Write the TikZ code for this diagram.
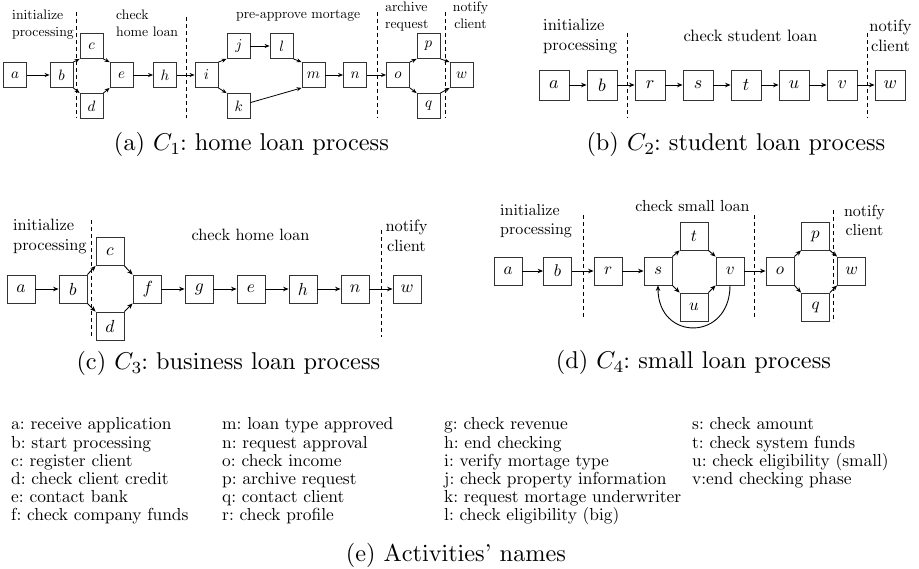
\documentclass[tikz,border=0pt]{standalone}
\usetikzlibrary{arrows.meta}
\frenchspacing
\font\fCapR=cmr10 at 24.3pt
\font\fCapI=cmmi10 at 24.3pt
\font\fCapS=cmr7 at 17pt
\font\fLeg=cmr10 at 17.4pt
\font\fAr=cmr10 at 13.75pt
\font\fAi=cmmi10 at 15pt
\font\fBr=cmr10 at 16.5pt
\font\fBi=cmmi10 at 18pt
\font\fCr=cmr10 at 16.4pt
\font\fCi=cmmi10 at 17.5pt
\font\fDr=cmr10 at 16pt
\font\fDi=cmmi10 at 17pt
\newcommand\CapC[1]{{\fCapI C}\lower3.6pt\hbox{\fCapS #1}}
\tikzset{
  bx/.style={draw=black!80, line width=0.8pt, inner sep=0pt},
  boxA/.style={bx, minimum width=23pt, minimum height=25pt, font=\fAi},
  boxB/.style={bx, minimum size=30pt, font=\fBi},
  boxC/.style={bx, minimum size=28pt, font=\fCi},
  boxD/.style={bx, minimum size=28pt, font=\fDi},
  arr/.style={-{Stealth[length=5.5pt,width=4.5pt]}, line width=0.9pt},
  arrA/.style={-{Stealth[length=5pt,width=4pt]}, line width=0.8pt},
  sep/.style={dashed, dash pattern=on 4pt off 3pt, line width=0.9pt},
  lw/.style={inner sep=0pt, anchor=base west},
  lc/.style={inner sep=0pt, anchor=base},
  captxt/.style={inner sep=0pt, anchor=base, font=\fCapR},
  leg/.style={inner sep=0pt, anchor=base west, font=\fLeg},
}
\begin{document}
\begin{tikzpicture}[x=1pt,y=-1pt]
\frenchspacing
\useasboundingbox (0,0) rectangle (919,569);
\fill[white] (0,0) rectangle (919,569);

% ---------------- panel (a)
\node[boxA] (a1) at (15,75) {a};
\node[boxA] (b1) at (61.5,75) {b};
\node[boxA] (c1) at (91.5,46) {c};
\node[boxA] (d1) at (91.5,106) {d};
\node[boxA] (e1) at (121.5,75) {e};
\node[boxA] (h1) at (165,75) {h};
\node[boxA] (i1) at (206.5,75) {i};
\node[boxA] (j1) at (238.5,46) {j};
\node[boxA] (l1) at (281.5,46) {l};
\node[boxA] (k1) at (238.5,106) {k};
\node[boxA] (m1) at (313.5,75) {m};
\node[boxA] (n1) at (355,75) {n};
\node[boxA] (o1) at (398,75) {o};
\node[boxA] (p1) at (428.5,46) {p};
\node[boxA] (q1) at (428.5,106) {q};
\node[boxA] (w1) at (461.5,75) {w};
\draw[sep] (76,12) -- (76,118);
\draw[sep] (186,17) -- (186,118);
\draw[sep] (377,12) -- (377,118);
\draw[sep] (445,12) -- (445,118);
\node[lw, font=\fAr] (ta1) at (12,19.5) {initialize};
\node[lw, font=\fAr] (ta2) at (12,36.5) {processing};
\node[lw, font=\fAr] (ta3) at (116,19.5) {check};
\node[lw, font=\fAr] (ta4) at (116,36.5) {home loan};
\node[lw, font=\fAr] (ta5) at (236,19) {pre-approve mortage};
\node[lw, font=\fAr] (ta6) at (385,12) {archive};
\node[lw, font=\fAr] (ta7) at (385,28.5) {request};
\node[lc, font=\fAr] (ta8) at (470.5,12) {notify};
\node[lc, font=\fAr] (ta9) at (470.5,28.5) {client};
\draw[arrA] (a1) -- (b1);
\draw[arrA] (b1.north east) -- (c1.south west);
\draw[arrA] (b1.south east) -- (d1.north west);
\draw[arrA] (c1.south east) -- (e1.north west);
\draw[arrA] (d1.north east) -- (e1.south west);
\draw[arrA] (e1) -- (h1);
\draw[arrA] (h1) -- (i1);
\draw[arrA] (i1.north east) -- (j1.south west);
\draw[arrA] (i1.south east) -- (k1.north west);
\draw[arrA] (j1) -- (l1);
\draw[arrA] (l1.south east) -- (m1.north west);
\draw[arrA] (k1) -- (m1.south west);
\draw[arrA] (m1) -- (n1);
\draw[arrA] (n1) -- (o1);
\draw[arrA] (o1.north east) -- (p1.south west);
\draw[arrA] (o1.south east) -- (q1.north west);
\draw[arrA] (p1.south east) -- (w1.north west);
\draw[arrA] (q1.north east) -- (w1.south west);
\node[captxt] (capa) at (251.5,151) {(a) \CapC{1}: home loan process};

% ---------------- panel (b)
\node[boxB] (a2) at (554,85) {a};
\node[boxB] (b2) at (602,85) {b};
\node[boxB] (r2) at (650,85) {r};
\node[boxB] (s2) at (698,85) {s};
\node[boxB] (t2) at (746,85) {t};
\node[boxB] (u2) at (794,85) {u};
\node[boxB] (v2) at (842,85) {v};
\node[boxB] (w2) at (890,85) {w};
\draw[sep] (627,33) -- (627,118);
\draw[sep] (867,33) -- (867,118);
\node[lw, font=\fBr] (tb1) at (543,31) {initialize};
\node[lw, font=\fBr] (tb2) at (543,51) {processing};
\node[lc, font=\fBr] (tb3) at (750.5,42) {check student loan};
\node[lc, font=\fBr] (tb4) at (890.5,32) {notify};
\node[lc, font=\fBr] (tb5) at (890.5,52) {client};
\draw[arr] (a2) -- (b2);
\draw[arr] (b2) -- (r2);
\draw[arr] (r2) -- (s2);
\draw[arr] (s2) -- (t2);
\draw[arr] (t2) -- (u2);
\draw[arr] (u2) -- (v2);
\draw[arr] (v2) -- (w2);
\node[captxt] (capb) at (736,151) {(b) \CapC{2}: student loan process};

% ---------------- panel (c)
\node[boxC] (a3) at (21,289) {a};
\node[boxC] (b3) at (73,289) {b};
\node[boxC] (c3) at (110,251.5) {c};
\node[boxC] (d3) at (110,326) {d};
\node[boxC] (f3) at (147,289) {f};
\node[boxC] (g3) at (199,289) {g};
\node[boxC] (e3) at (251,289) {e};
\node[boxC] (h3) at (303,289) {h};
\node[boxC] (n3) at (355,289) {n};
\node[boxC] (w3) at (407,289) {w};
\draw[sep] (91,220) -- (91,337);
\draw[sep] (381,230) -- (381,337);
\node[lw, font=\fCr] (tc1) at (13,231) {initialize};
\node[lw, font=\fCr] (tc2) at (13,251) {processing};
\node[lc, font=\fCr] (tc3) at (250.5,241) {check home loan};
\node[lc, font=\fCr] (tc4) at (406.5,232) {notify};
\node[lc, font=\fCr] (tc5) at (406.5,252) {client};
\draw[arr] (a3) -- (b3);
\draw[arr] (b3.north east) -- (c3.south west);
\draw[arr] (b3.south east) -- (d3.north west);
\draw[arr] (c3.south east) -- (f3.north west);
\draw[arr] (d3.north east) -- (f3.south west);
\draw[arr] (f3) -- (g3);
\draw[arr] (g3) -- (e3);
\draw[arr] (e3) -- (h3);
\draw[arr] (h3) -- (n3);
\draw[arr] (n3) -- (w3);
\node[captxt] (capc) at (228.5,370) {(c) \CapC{3}: business loan process};

% ---------------- panel (d)
\node[boxD] (a4) at (508,271) {a};
\node[boxD] (b4) at (557.5,271) {b};
\node[boxD] (r4) at (608,271) {r};
\node[boxD] (s4) at (658,271) {s};
\node[boxD] (t4) at (694,236) {t};
\node[boxD] (u4) at (694,307) {u};
\node[boxD] (v4) at (730,271) {v};
\node[boxD] (o4) at (780,271) {o};
\node[boxD] (p4) at (815.5,236) {p};
\node[boxD] (q4) at (815.5,307) {q};
\node[boxD] (w4) at (851.5,271) {w};
\draw[sep] (583,215) -- (583,317);
\draw[sep] (754,215) -- (754,317);
\draw[sep] (833,210) -- (833,322);
\node[lw, font=\fDr] (td1) at (500,216) {initialize};
\node[lw, font=\fDr] (td2) at (500,235) {processing};
\node[lc, font=\fDr] (td3) at (692.5,212) {check small loan};
\node[lc, font=\fDr] (td4) at (864.5,217) {notify};
\node[lc, font=\fDr] (td5) at (864.5,236) {client};
\draw[arr] (a4) -- (b4);
\draw[arr] (b4) -- (r4);
\draw[arr] (r4) -- (s4);
\draw[arr] (s4.north east) -- (t4.south west);
\draw[arr] (s4.south east) -- (u4.north west);
\draw[arr] (t4.south east) -- (v4.north west);
\draw[arr] (u4.north east) -- (v4.south west);
\draw[arr] (v4.south) to[out=-90,in=-90,looseness=2] (s4.south);
\draw[arr] (v4) -- (o4);
\draw[arr] (o4.north east) -- (p4.south west);
\draw[arr] (o4.south east) -- (q4.north west);
\draw[arr] (p4.south east) -- (w4.north west);
\draw[arr] (q4.north east) -- (w4.south west);
\node[captxt] (capd) at (693.5,369) {(d) \CapC{4}: small loan process};

% ---------------- legend (e)
\foreach \t [count=\i from 0] in {a: receive application, b: start processing, c: register client, d: check client credit, e: contact bank, f: check company funds}
  \node[leg] (lga\i) at (11,430+18*\i) {\t};
\foreach \t [count=\i from 0] in {m: loan type approved, n: request approval, o: check income, p: archive request, q: contact client, r: check profile}
  \node[leg] (lgb\i) at (222,430+18*\i) {\t};
\foreach \t [count=\i from 0] in {g: check revenue, h: end checking, i: verify mortage type, j: check property information, k: request mortage underwriter, l: check eligibility (big)}
  \node[leg] (lgc\i) at (444,430+18*\i) {\t};
\foreach \t [count=\i from 0] in {s: check amount, t: check system funds, u: check eligibility (small), v:end checking phase}
  \node[leg] (lgd\i) at (692,430+18*\i) {\t};
\node[captxt] (cape) at (456,561) {(e) Activities' names};
\end{tikzpicture}
\end{document}
